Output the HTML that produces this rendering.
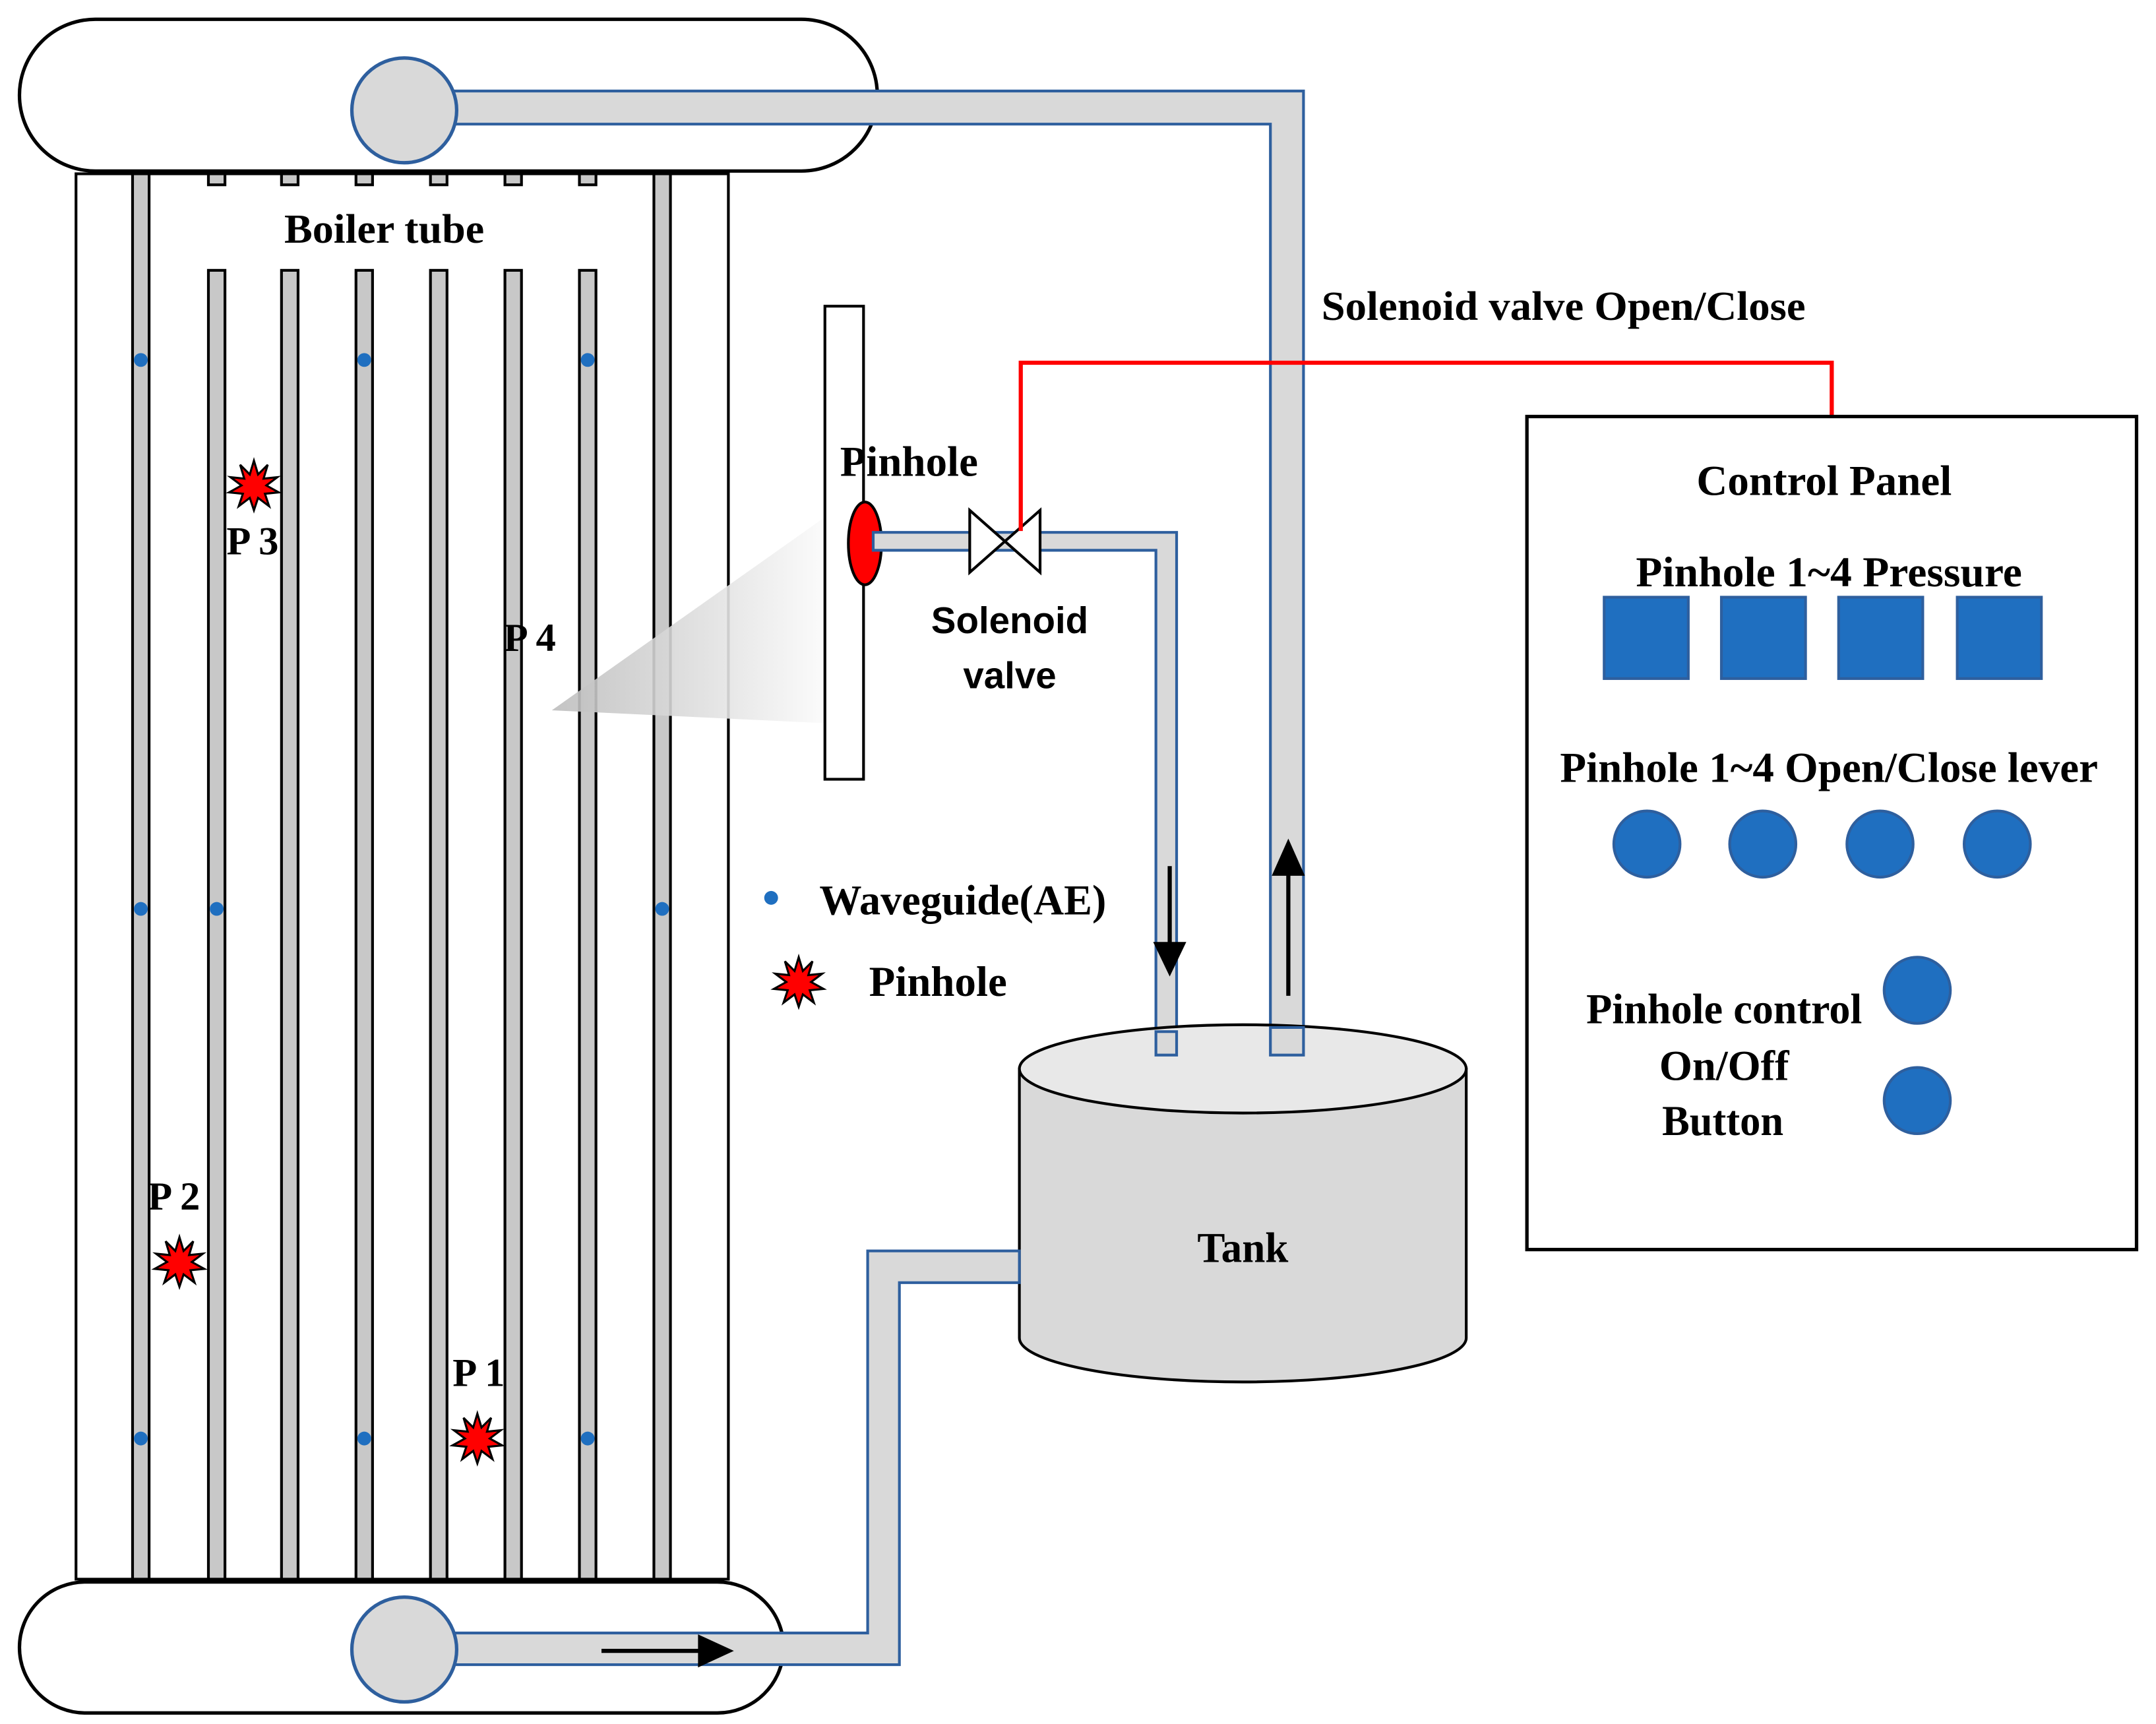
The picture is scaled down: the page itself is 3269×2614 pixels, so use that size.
<!DOCTYPE html>
<html><head><style>html,body{margin:0;padding:0;background:#fff}svg{display:block}</style></head>
<body>
<svg width="3269" height="2614" viewBox="0 0 1563 1250" xmlns="http://www.w3.org/2000/svg">
<defs>
<linearGradient id="wg" x1="0" y1="0" x2="1" y2="0">
<stop offset="0" stop-color="#bdbdbd"/><stop offset="1" stop-color="#ffffff"/>
</linearGradient>
<g id="star">
<polygon points="0,-18 3,-8 10,-15 7,-5 17,-6 9,0 18,5 8,6 11,15 3,9 0,18 -3,9 -11,15 -8,6 -18,5 -9,0 -17,-6 -7,-5 -10,-15 -3,-8" fill="#f00" stroke="#000" stroke-width="1.5"/>
</g>
</defs>
<g font-family="'Liberation Serif',serif" font-weight="bold" fill="#000" lengthAdjust="spacingAndGlyphs">
<rect x="14" y="14" width="622" height="110" rx="55" fill="#fff" stroke="#000" stroke-width="2.5"/>
<rect x="55" y="126" width="473" height="1019" fill="#fff" stroke="#000" stroke-width="2"/>
<g fill="#c8c8c8" stroke="#000" stroke-width="2">
<rect x="96" y="126" width="12" height="1019"/>
<rect x="474" y="126" width="12" height="1019"/>
<rect x="151" y="126" width="12" height="8"/><rect x="151" y="196" width="12" height="949"/>
<rect x="204" y="126" width="12" height="8"/><rect x="204" y="196" width="12" height="949"/>
<rect x="258" y="126" width="12" height="8"/><rect x="258" y="196" width="12" height="949"/>
<rect x="312" y="126" width="12" height="8"/><rect x="312" y="196" width="12" height="949"/>
<rect x="366" y="126" width="12" height="8"/><rect x="366" y="196" width="12" height="949"/>
<rect x="420" y="126" width="12" height="8"/><rect x="420" y="196" width="12" height="949"/>
</g>
<g fill="#1f6fc0">
<circle cx="102" cy="261" r="5"/><circle cx="264" cy="261" r="5"/><circle cx="426" cy="261" r="5"/>
<circle cx="102" cy="659" r="5"/><circle cx="157" cy="659" r="5"/><circle cx="480" cy="659" r="5"/>
<circle cx="102" cy="1043" r="5"/><circle cx="264" cy="1043" r="5"/><circle cx="426" cy="1043" r="5"/>
<circle cx="559" cy="651" r="5"/>
</g>
<text x="206" y="176" font-size="30" textLength="145" lengthAdjust="spacingAndGlyphs">Boiler tube</text>
<use href="#star" x="184" y="352"/><use href="#star" x="130" y="915"/><use href="#star" x="346" y="1043"/><use href="#star" x="579" y="712"/>
<text x="183" y="402" font-size="29" text-anchor="middle">P 3</text>
<text x="384" y="472" font-size="29" text-anchor="middle">P 4</text>
<text x="126" y="877" font-size="29" text-anchor="middle">P 2</text>
<text x="347" y="1005" font-size="29" text-anchor="middle">P 1</text>
<polygon points="400,515 605,370 612,525" fill="url(#wg)" opacity="0.9"/>
<path d="M300,66 H945 V765 H921 V90 H300 Z" fill="#d9d9d9" stroke="#2e5f9e" stroke-width="2"/>
<circle cx="293" cy="80" r="38" fill="#d9d9d9" stroke="#2e5f9e" stroke-width="2.5"/>
<rect x="598" y="222" width="28" height="343" fill="#fff" stroke="#000" stroke-width="2"/>
<ellipse cx="627" cy="394" rx="12" ry="30" fill="#f00" stroke="#000" stroke-width="2"/>
<path d="M633,386 H853 V765 H838 V399 H633 Z" fill="#d9d9d9" stroke="#2e5f9e" stroke-width="2"/>
<polygon points="703,370 754,415 754,370 703,415" fill="#fff" stroke="#000" stroke-width="2"/>
<polyline points="740,385 740,263 1328,263 1328,302" fill="none" stroke="#f00" stroke-width="3"/>
<text x="609" y="345" font-size="31" textLength="100" lengthAdjust="spacingAndGlyphs">Pinhole</text>
<g font-family="'Liberation Sans',sans-serif" font-size="27" text-anchor="middle">
<text x="732" y="459">Solenoid</text><text x="732" y="499">valve</text></g>
<text x="958" y="232" font-size="30" textLength="351" lengthAdjust="spacingAndGlyphs">Solenoid valve Open/Close</text>
<text x="594" y="663" font-size="31" textLength="208" lengthAdjust="spacingAndGlyphs">Waveguide(AE)</text>
<text x="630" y="722" font-size="31" textLength="100" lengthAdjust="spacingAndGlyphs">Pinhole</text>
<line x1="848" y1="628" x2="848" y2="685" stroke="#000" stroke-width="3"/>
<polygon points="836,683 860,683 848,708" fill="#000"/>
<line x1="934" y1="722" x2="934" y2="632" stroke="#000" stroke-width="3"/>
<polygon points="922,635 946,635 934,608" fill="#000"/>
<path d="M739,775 V970 A162,32 0 0 0 1063,970 V775 Z" fill="#d9d9d9" stroke="#000" stroke-width="2"/>
<ellipse cx="901" cy="775" rx="162" ry="32" fill="#e8e8e8" stroke="#000" stroke-width="2"/>
<path d="M838,748 H853 V765 H838 Z M921,745 H945 V765 H921 Z" fill="#d9d9d9" stroke="#2e5f9e" stroke-width="2"/>
<text x="868" y="915" font-size="31" textLength="66" lengthAdjust="spacingAndGlyphs">Tank</text>
<rect x="14" y="1147" width="554" height="95" rx="48" fill="#fff" stroke="#000" stroke-width="2.5"/>
<path d="M300,1184 H629 V907 H739 V930 H652 V1207 H300 Z" fill="#d9d9d9" stroke="#2e5f9e" stroke-width="2"/>
<circle cx="293" cy="1196" r="38" fill="#d9d9d9" stroke="#2e5f9e" stroke-width="2.5"/>
<line x1="436" y1="1197" x2="510" y2="1197" stroke="#000" stroke-width="3"/>
<polygon points="506,1185 532,1197 506,1209" fill="#000"/>
<rect x="1107" y="302" width="442" height="604" fill="#fff" stroke="#000" stroke-width="2.5"/>
<text x="1230" y="359" font-size="31" textLength="185" lengthAdjust="spacingAndGlyphs">Control Panel</text>
<text x="1186" y="425" font-size="31" textLength="280" lengthAdjust="spacingAndGlyphs">Pinhole 1~4 Pressure</text>
<g fill="#1f6fc0" stroke="#2e5f9e" stroke-width="2">
<rect x="1163" y="433" width="61" height="59"/><rect x="1248" y="433" width="61" height="59"/>
<rect x="1333" y="433" width="61" height="59"/><rect x="1419" y="433" width="61" height="59"/>
<circle cx="1194" cy="612" r="24"/><circle cx="1278" cy="612" r="24"/><circle cx="1363" cy="612" r="24"/><circle cx="1448" cy="612" r="24"/>
<circle cx="1390" cy="718" r="24"/><circle cx="1390" cy="798" r="24"/>
</g>
<text x="1131" y="567" font-size="31" textLength="390" lengthAdjust="spacingAndGlyphs">Pinhole 1~4 Open/Close lever</text>
<text x="1150" y="742" font-size="31" textLength="200" lengthAdjust="spacingAndGlyphs">Pinhole control</text>
<text x="1203" y="783" font-size="31" textLength="94" lengthAdjust="spacingAndGlyphs">On/Off</text>
<text x="1205" y="823" font-size="31" textLength="88" lengthAdjust="spacingAndGlyphs">Button</text>
</g>
</svg>
</body></html>
